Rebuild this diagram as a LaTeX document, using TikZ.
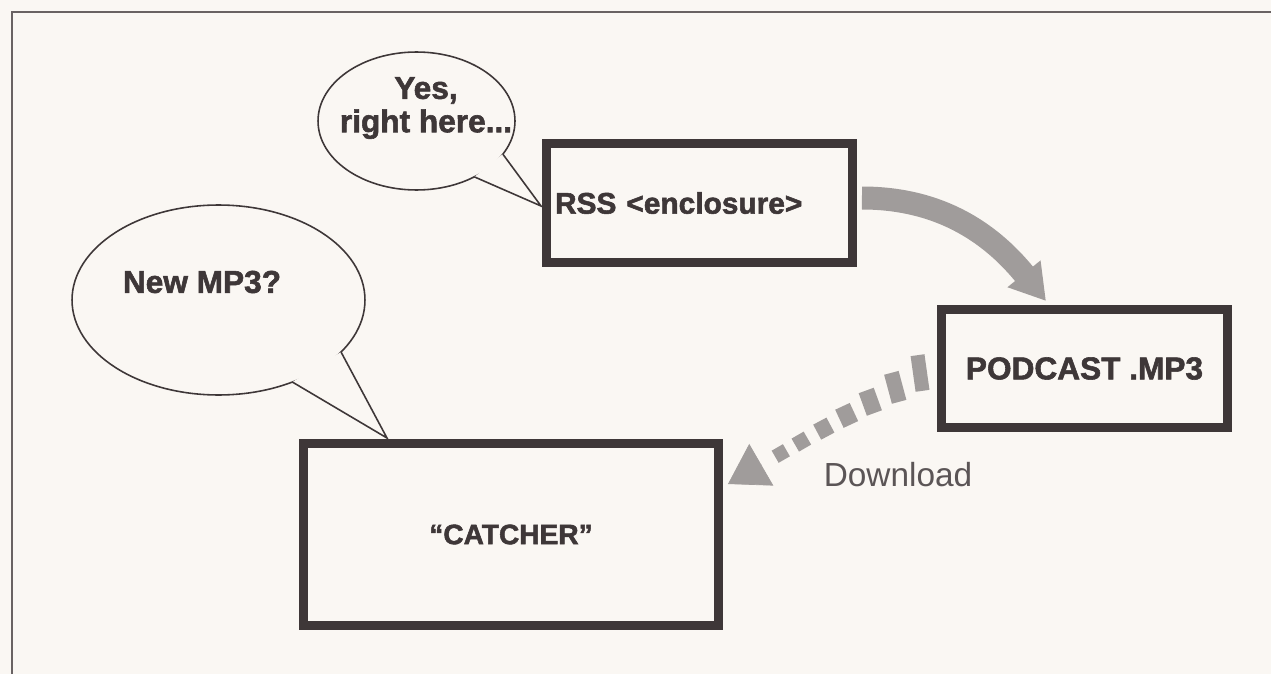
\documentclass[tikz,border=0pt]{standalone}
\usepackage{fontspec}
\setmainfont{Liberation Sans}[BoldFeatures={FakeBold=1.8}]
\usepackage{tikz}
\usetikzlibrary{arrows.meta,shapes.geometric,calc}

\definecolor{paper}{RGB}{250,247,243}
\definecolor{ink}{RGB}{62,55,56}
\definecolor{frameline}{RGB}{105,98,99}
\definecolor{dither}{RGB}{160,156,155}

\begin{document}
\begin{tikzpicture}[x=0.02cm,y=0.02cm,
  box/.style={draw=ink,line width=5pt,inner sep=0pt,outer sep=0pt,text=ink,font=\bfseries\fontsize{17}{20}\selectfont},
  bubble/.style={ellipse,draw=ink,line width=0.9pt,inner sep=0pt,outer sep=0pt},
  saying/.style={text=ink,align=center,font=\bfseries\fontsize{18}{19}\selectfont},
  dlblock/.style={fill=dither,inner sep=0pt,outer sep=0pt}]

\useasboundingbox (0,0) rectangle (1271,674);
\fill[paper] (0,0) rectangle (1271,674);
\draw[frameline,line width=1.3pt] (12,0) -- (12,662) -- (1271,662);

% the three boxes
\node[box,minimum width=6.12cm,minimum height=2.38cm,text width=5.78cm,align=left] (rss) at (699.5,471) {RSS <enclosure>};
\node[box,minimum width=5.72cm,minimum height=2.36cm,font=\bfseries\fontsize{18}{20}\selectfont] (pod) at (1084.5,305.5) {PODCAST .MP3};
\node[box,minimum width=8.3cm,minimum height=3.64cm,font=\bfseries\fontsize{16}{19}\selectfont] (catcher) at (511,139.5) {“CATCHER”};

% speech bubbles
\node[bubble,minimum width=3.94cm,minimum height=2.76cm] (yes) at (416.5,553) {};
\node[saying] (yestext) at (426,566) {Yes,\\right here...};
\coordinate (yestip) at ([shift={(-5.5,-3)}]rss.west);
\fill[paper] (yes.-21) -- (yestip) -- (yes.-44) -- cycle;
\draw[ink,line width=0.9pt] (yes.-21) -- (yestip) -- (yes.-44);

\node[bubble,minimum width=5.86cm,minimum height=3.8cm] (newq) at (218.5,374) {};
\node[saying] (newqtext) at (202,392) {New MP3?};
\coordinate (newqtip) at ([shift={(-124,5.5)}]catcher.north);
\fill[paper] (newq.-23) -- (newqtip) -- (newq.-48) -- cycle;
\draw[ink,line width=0.9pt] (newq.-23) -- (newqtip) -- (newq.-48);

% feed points to the file
\draw[dither,line width=0.46cm,-{Triangle[length=0.7cm,width=0.8cm]}]
  ([shift={(9.5,5)}]rss.east) .. controls +(83,0) and +(-51,63) .. ([shift={(-38.5,8.5)}]pod.north);

% download, blocks growing towards the file
\coordinate (dlfrom) at ([shift={(-21.5,-4.5)}]pod.west);
\coordinate (dlto) at ([shift={(9.5,-40.5)}]catcher.north east);
\foreach \t/\w/\h/\r [count=\i] in {0/0.28cm/0.72cm/8, 0.129/0.3cm/0.6cm/15, 0.259/0.32cm/0.48cm/20,
    0.382/0.32cm/0.4cm/25, 0.501/0.3cm/0.34cm/28, 0.618/0.28cm/0.3cm/30, 0.725/0.26cm/0.28cm/30}
  \node[dlblock,minimum width=\w,minimum height=\h,rotate=\r] (dash\i) at ($(dlfrom)!\t!(dlto)$) {};
\draw[dither,line width=0.4pt,-{Triangle[length=0.77cm,width=0.96cm]}] ($(dlfrom)!0.826!(dlto)$) -- (dlto);
\node[text=ink!85,font=\fontsize{19}{22}\selectfont] (dltext) at (898,199) {Download};

\end{tikzpicture}
\end{document}
